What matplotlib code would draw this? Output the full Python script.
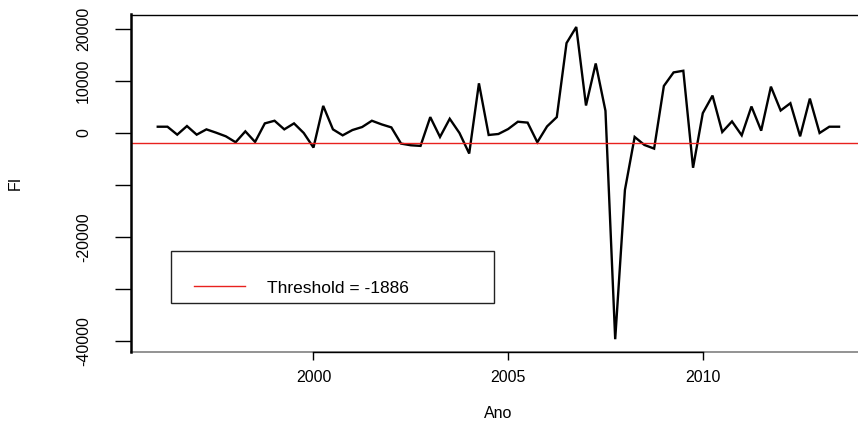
import numpy as np
import matplotlib
matplotlib.use("Agg")
import matplotlib.pyplot as plt
from matplotlib.lines import Line2D
from matplotlib.legend_handler import HandlerLine2D

plt.rcParams['font.family'] = ['Liberation Sans', 'DejaVu Sans']

# ---- data (quarterly, 1996 Q1 .. 2013 Q3) ----
start_year = 1996.0
fi_values = [1210, 1210, -320, 1340, -320, 700, 60, -640, -1780, 320,
             -1720, 1850, 2360, 700, 1850, 0, -2800, 5220, 700, -450,
             570, 1150, 2360, 1660, 1080, -2040, -2360, -2480, 3060, -760,
             2740, 0, -3950, 9560, -380, -190, 760, 2170, 2000, -1780,
             1270, 3060, 17300, 20400, 5290, 13380, 4270, -39680, -10960, -760,
             -2300, -3000, 9050, 11660, 11980, -6690, 3820, 7200, 190, 2230,
             -450, 5100, 450, 8920, 4330, 5730, -640, 6620, 0, 1210, 1210]
threshold = -1886
x_ticks = [2000, 2005, 2010]
x_ticklabels = ["2000", "2005", "2010"]
y_ticks = [-40000, -30000, -20000, -10000, 0, 10000, 20000]
y_ticklabels = ["-40000", "", "-20000", "", "0", "10000", "20000"]
x_label = "Ano"
y_label = "FI"
legend_label = "Threshold = -1886"

years = start_year + np.arange(len(fi_values)) / 4.0
vals = np.array(fi_values, dtype=float)

W, H = 858, 425
fig = plt.figure(figsize=(W / 100, H / 100), dpi=100)
ax_left, ax_right, ax_top, ax_bottom = 130.5, 866.3, 14.5, 351.7
aw, ah = ax_right - ax_left, ax_bottom - ax_top
ax = fig.add_axes([ax_left / W, (H - ax_bottom) / H, aw / W, ah / H])

ax.plot(years, vals, color='black', lw=1.7, solid_joinstyle='miter')
ax.axhline(threshold, color='#e8211e', lw=1.0)

# R-style 4% padding
xr = years.max() - years.min()
ax.set_xlim(years.min() - 0.04 * xr, years.max() + 0.04 * xr)
yr = vals.max() - vals.min()
ax.set_ylim(vals.min() - 0.04 * yr, vals.max() + 0.04 * yr)

ax.set_xticks(x_ticks)
ax.set_xticklabels(x_ticklabels)
ax.set_yticks(y_ticks)
ax.set_yticklabels(y_ticklabels)

ax.tick_params(axis='x', direction='out', length=6, width=1, pad=7, labelsize=11.5)
ax.tick_params(axis='y', direction='out', length=11.5, width=1, pad=17, labelsize=11.5)
for lbl in ax.get_yticklabels():
    lbl.set_rotation(90)
    lbl.set_va('center')
    lbl.set_ha('right')

ax.spines['right'].set_visible(False)
ax.spines['top'].set_linewidth(1.0)
ax.spines['left'].set_linewidth(1.8)
ax.spines['bottom'].set_bounds(2000, 2010)
ax.spines['bottom'].set_linewidth(1.0)
ax.add_line(Line2D([0, 1], [0, 0], transform=ax.transAxes, color='#8a8a8a',
                   lw=1.3, clip_on=False, zorder=0.5))

ax.set_xlabel(x_label, fontsize=11.5)
ax.xaxis.set_label_coords(0.5, -(413 - ax_bottom) / ah)
ax.xaxis.label.set_va('center')
ax.set_ylabel(y_label, fontsize=11.5)
ax.yaxis.set_label_coords(-(ax_left - 15) / aw, 0.5)
ax.yaxis.label.set_va('center')

handle = Line2D([], [], color='#e8211e', lw=1.0)
leg = ax.legend([handle], [legend_label],
                handler_map={handle: HandlerLine2D(xpad=0.95)},
                loc='lower left', mode='expand',
                bbox_to_anchor=((171 - ax_left) / aw, (ax_bottom - 302.5) / ah,
                                (494.3 - 171) / aw, (302.5 - 251) / ah),
                borderaxespad=0, borderpad=0.4, handlelength=3.85,
                handletextpad=1.3, title=' ', fontsize=12.5,
                frameon=True, fancybox=False, framealpha=1,
                edgecolor='#222222', alignment='left')
leg.get_frame().set_linewidth(1.0)

fig.savefig('out.png', dpi=100)
